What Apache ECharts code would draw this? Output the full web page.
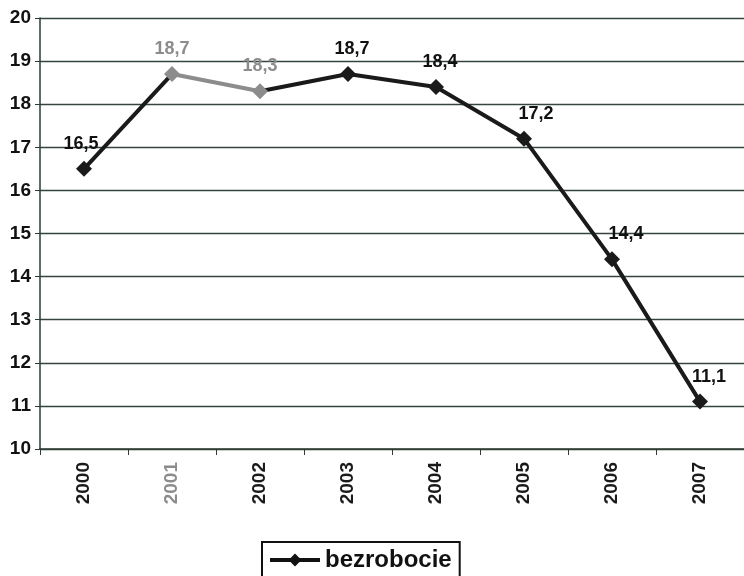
<!DOCTYPE html>
<html>
<head>
<meta charset="utf-8">
<script src="https://cdn.jsdelivr.net/npm/echarts@6/dist/echarts.min.js"></script>
<style>
html,body{margin:0;padding:0;background:#fff;}
#container{width:744px;height:576px;}
</style>
</head>
<body>
<div id="container"></div>
<script>
var years = ['2000','2001','2002','2003','2004','2005','2006','2007'];
var bezrobocie = [16.5, 18.7, 18.3, 18.7, 18.4, 17.2, 14.4, 11.1];
// punkty wyblakłe na skanie
var faded = [1, 2];
// przesunięcie etykiet w poziomie
var labelShift = [-3, 0, 0, 4, 4, 12, 14, 9];

var data = [];
for (var i = 0; i < bezrobocie.length; i++) {
	var d = { value: bezrobocie[i], label: { offset: [labelShift[i], 0] } };
	if (faded.indexOf(i) >= 0) {
		d.itemStyle = { color: '#8c8c8c' };
		d.label.color = '#8c8c8c';
	}
	data.push(d);
}

var myChart = echarts.init(document.getElementById('container'));
var option = {
	animation: false,
	textStyle: { fontFamily: 'Liberation Sans, Arial, sans-serif' },
	grid: { left: 40, right: 0, top: 18, bottom: 127 },
	legend: {
		bottom: -8,
		left: 262,
		data: ['bezrobocie'],
		borderColor: '#111',
		borderWidth: 2,
		padding: [6, 8, 12, 6],
		itemWidth: 50,
		itemHeight: 16,
		itemGap: 4,
		itemStyle: { color: '#111' },
		lineStyle: { width: 4, color: '#111' },
		textStyle: { fontSize: 24, fontWeight: 'bold', color: '#111' }
	},
	visualMap: {
		show: false,
		dimension: 0,
		seriesIndex: 0,
		pieces: [
			{ lt: 1, color: '#1a1a1a' },
			{ gte: 1, lte: 2, color: '#8c8c8c' },
			{ gt: 2, color: '#1a1a1a' }
		]
	},
	xAxis: {
		type: 'category',
		data: years,
		boundaryGap: true,
		axisLine: { lineStyle: { color: '#2e3b33', width: 1.5 } },
		axisTick: { show: true, length: 6, lineStyle: { color: '#2e3b33' } },
		axisLabel: {
			rotate: 90,
			fontSize: 19,
			fontWeight: 'bold',
			color: '#1a1a1a',
			margin: 13,
			formatter: function (v) {
				return v === '2001' ? '{g|' + v + '}' : v;
			},
			rich: { g: { color: '#8c8c8c', fontSize: 19, fontWeight: 'bold' } }
		}
	},
	yAxis: {
		type: 'value',
		min: 10,
		max: 20,
		interval: 1,
		axisLine: { show: true, lineStyle: { color: '#2e3b33', width: 1.5 } },
		axisTick: { show: true, length: 5, lineStyle: { color: '#2e3b33' } },
		splitLine: { lineStyle: { color: '#34463c', width: 1.3 } },
		axisLabel: { fontSize: 19, fontWeight: 'bold', color: '#111', margin: 9 }
	},
	series: [{
		name: 'bezrobocie',
		type: 'line',
		data: data,
		symbol: 'diamond',
		symbolSize: 16,
		itemStyle: { color: '#111' },
		lineStyle: { width: 4 },
		label: {
			show: true,
			position: 'top',
			distance: 8,
			fontSize: 18,
			fontWeight: 'bold',
			color: '#111',
			formatter: function (p) { return String(p.value).replace('.', ','); }
		}
	}]
};
myChart.setOption(option);
</script>
</body>
</html>
